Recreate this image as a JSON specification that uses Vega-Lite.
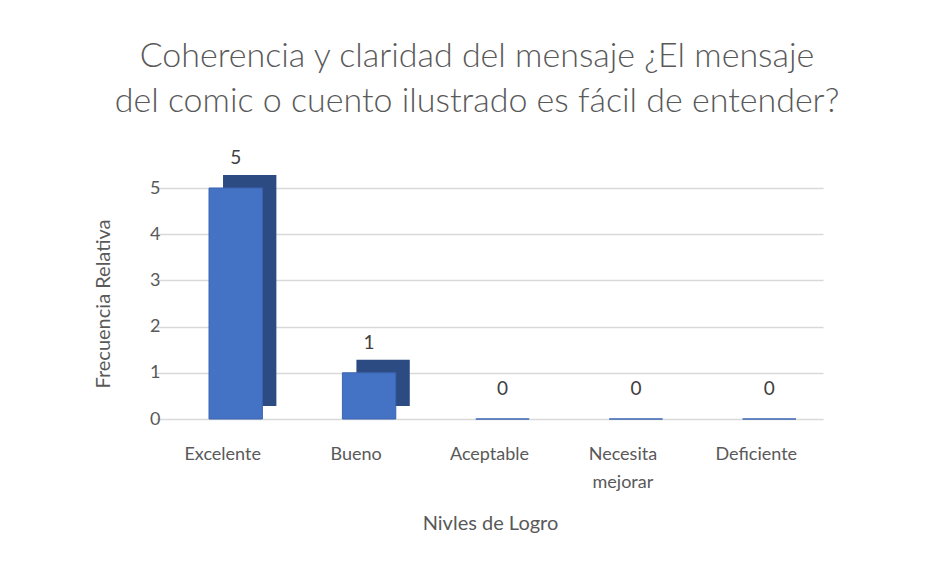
{
  "$schema": "https://vega.github.io/schema/vega-lite/v6.json",
  "autosize": "none",
  "width": 714,
  "height": 231,
  "padding": {"left": 156, "top": 188, "right": 60, "bottom": 145},
  "background": "white",
  "title": {
    "text": ["Coherencia y claridad del mensaje ¿El mensaje", "del comic o cuento ilustrado es fácil de entender?"],
    "font": "Lato",
    "fontSize": 34,
    "fontWeight": 300,
    "color": "#595959",
    "lineHeight": 45,
    "anchor": "middle",
    "dx": -36,
    "offset": 30
  },
  "data": {
    "values": [
      {"nivel": "Excelente", "frecuencia": 5},
      {"nivel": "Bueno", "frecuencia": 1},
      {"nivel": "Aceptable", "frecuencia": 0},
      {"nivel": "Necesita mejorar", "frecuencia": 0},
      {"nivel": "Deficiente", "frecuencia": 0}
    ]
  },
  "config": {
    "view": {"stroke": null},
    "font": "Lato"
  },
  "encoding": {
    "x": {
      "field": "nivel",
      "type": "nominal",
      "sort": null,
      "scale": {"paddingInner": 0.6, "paddingOuter": 0.3, "range": [0, 667]},
      "axis": {
        "title": "Nivles de Logro",
        "titleFont": "Lato",
        "titleFontSize": 20,
        "titleFontWeight": "normal",
        "titleColor": "#595959",
        "titlePadding": 22,
        "titleX": 334,
        "titleAlign": "center",
        "labelAngle": 0,
        "labelFontSize": 18,
        "labelColor": "#595959",
        "labelPadding": 26,
        "labelLineHeight": 28,
        "labelExpr": "datum.label == 'Necesita mejorar' ? ['Necesita', 'mejorar'] : datum.label",
        "domain": false,
        "ticks": false
      }
    },
    "y": {
      "field": "frecuencia",
      "type": "quantitative",
      "scale": {"domain": [0, 5], "nice": false},
      "axis": {
        "title": "Frecuencia Relativa",
        "titleFont": "Lato",
        "titleFontSize": 20,
        "titleFontWeight": "normal",
        "titleColor": "#595959",
        "titlePadding": 36,
        "values": [0, 1, 2, 3, 4, 5],
        "labelOverlap": false,
        "labelFontSize": 18,
        "labelColor": "#595959",
        "labelPadding": -4,
        "domain": false,
        "ticks": false,
        "grid": true,
        "gridColor": "#d9d9d9",
        "gridWidth": 1.5
      }
    }
  },
  "layer": [
    {
      "mark": {"type": "bar", "color": "#2b4b82", "xOffset": 27, "yOffset": -13, "cornerRadius": 0},
      "encoding": {}
    },
    {
      "mark": {"type": "bar", "color": "#4472c4", "stroke": "#3a64b0", "strokeWidth": 1, "xOffset": 13},
      "encoding": {}
    },
    {
      "mark": {"type": "text", "fontSize": 19, "color": "#404040", "dy": -20, "dx": 13, "baseline": "bottom"},
      "encoding": {"text": {"field": "frecuencia", "type": "quantitative"}}
    }
  ]
}
